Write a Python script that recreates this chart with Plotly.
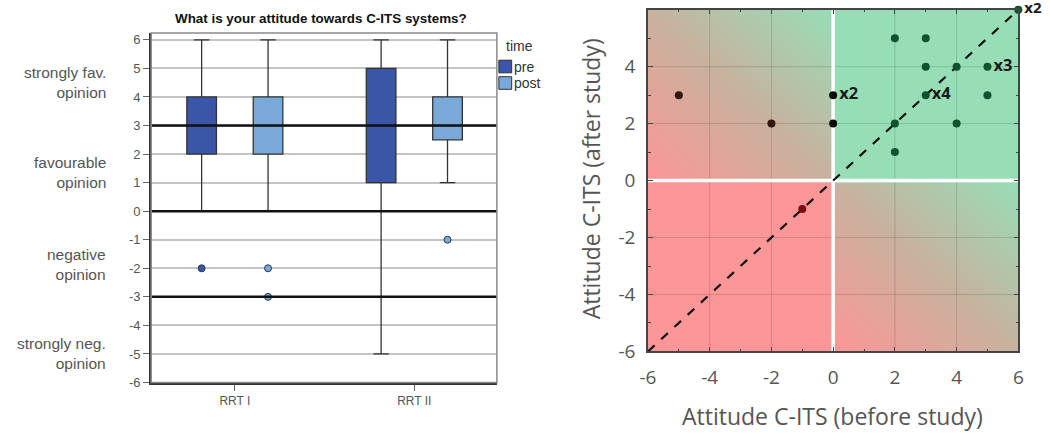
import numpy as np
import plotly.graph_objects as go

W, H = 1050, 446

# ---------------- Left panel: box plots of attitude scores ----------------
groups = ["RRT I", "RRT II"]
group_pos = [0, 1]

pre_q1 = [2, 1]
pre_median = [3, 3]
pre_q3 = [4, 5]
pre_lower = [0, -5]
pre_upper = [6, 6]

post_q1 = [2, 2.5]
post_median = [3, 3]
post_q3 = [4, 4]
post_lower = [0, 1]
post_upper = [6, 6]

pre_outlier_group = [0]
pre_outlier_value = [-2]
post_outlier_group = [0, 0, 1]
post_outlier_value = [-2, -3, -1]

left_ticks = list(range(-6, 7))
reference_levels = [3, 0, -3]
opinion_labels = ["strongly fav.<br>opinion", "favourable<br>opinion",
                  "negative<br>opinion", "strongly neg.<br>opinion"]
opinion_label_y = [4.5, 1.35, -1.85, -5.0]

legend_title = "time"
legend_names = ["pre", "post"]

# ---------------- Right panel: before vs after scatter ----------------
before = [-5, -2, 0, 0, 2, 3, 3, 4, 5, 3, 5, 2, 4, 2, 6, -1]
after = [3, 2, 3, 2, 5, 5, 4, 4, 4, 3, 3, 2, 2, 1, 6, -1]
counts = [1, 1, 2, 1, 1, 1, 1, 1, 3, 4, 1, 1, 1, 1, 2, 1]

axis_ticks = [-6, -4, -2, 0, 2, 4, 6]

PRE_COLOR = "#3b56a9"
POST_COLOR = "#79a9d8"
BOX_LINE = "#333333"
GRAY_TXT = "#555555"
OFFSET = 0.185
BOX_W = 0.165
ARIAL = "Liberation Sans, Arial"
SANS = "Open Sans"


def px_x(p):
    return p / W


def px_y(p):
    return 1 - p / H


fig = go.Figure()

# box traces with precomputed statistics
series = [
    ("pre", pre_q1, pre_median, pre_q3, pre_lower, pre_upper, PRE_COLOR, -OFFSET),
    ("post", post_q1, post_median, post_q3, post_lower, post_upper, POST_COLOR, OFFSET),
]
for name, q1, med, q3, lo, hi, color, off in series:
    fig.add_trace(go.Box(
        x=[p + off for p in group_pos], q1=q1, median=med, q3=q3,
        lowerfence=lo, upperfence=hi, name=name, width=BOX_W,
        fillcolor=color, line=dict(color=BOX_LINE, width=1.3),
        whiskerwidth=0.52, boxpoints=False, xaxis="x", yaxis="y",
        showlegend=False, hoverinfo="skip",
    ))

# outliers
fig.add_trace(go.Scatter(
    x=[group_pos[g] - OFFSET for g in pre_outlier_group], y=pre_outlier_value,
    mode="markers", marker=dict(size=7, color=PRE_COLOR, line=dict(color="#2a3550", width=1)),
    showlegend=False, xaxis="x", yaxis="y", hoverinfo="skip",
))
fig.add_trace(go.Scatter(
    x=[group_pos[g] + OFFSET for g in post_outlier_group], y=post_outlier_value,
    mode="markers", marker=dict(size=7, color=POST_COLOR, line=dict(color="#2a3550", width=1)),
    showlegend=False, xaxis="x", yaxis="y", hoverinfo="skip",
))

# ---- right panel background: quadrant colouring with diagonal gradient ----
gx = np.linspace(-6, 6, 121)
gy = np.linspace(-6, 6, 121)
GX, GY = np.meshgrid(gx, gy)
bg = np.clip((GX + GY) / 6.0, -1, 1)
bg = np.where((GX >= 0) & (GY >= 0), 1.0, bg)
bg = np.where((GX < 0) & (GY < 0), -1.0, bg)
fig.add_trace(go.Heatmap(
    x=gx, y=gy, z=bg, zmin=-1, zmax=1, zsmooth="best", showscale=False,
    colorscale=[[0, "rgb(253,150,150)"], [0.5, "rgb(200,178,158)"], [1, "rgb(151,222,183)"]],
    xaxis="x2", yaxis="y2", hoverinfo="skip",
))

# grid lines (every 2 units) over the background
grid_vals = [v for v in axis_ticks if v not in (-6, 0, 6)]
gxs, gys = [], []
for v in grid_vals:
    gxs += [v, v, None, -6, 6, None]
    gys += [-6, 6, None, v, v, None]
fig.add_trace(go.Scatter(x=gxs, y=gys, mode="lines",
                         line=dict(color="rgba(0,0,0,0.14)", width=1),
                         showlegend=False, xaxis="x2", yaxis="y2", hoverinfo="skip"))
# white zero lines
fig.add_trace(go.Scatter(x=[0, 0, None, -6, 6], y=[-6, 6, None, 0, 0], mode="lines",
                         line=dict(color="white", width=3.5),
                         showlegend=False, xaxis="x2", yaxis="y2", hoverinfo="skip"))
# identity line
fig.add_trace(go.Scatter(x=[-6, 6], y=[-6, 6], mode="lines",
                         line=dict(color="#111111", width=2.2, dash="dash"),
                         showlegend=False, xaxis="x2", yaxis="y2", hoverinfo="skip"))


def point_color(x, y):
    if x > 0 and y > 0:
        return "#0e5230"
    if x == 0:
        return "#0a0a0a"
    if x < 0 and y < 0:
        return "#7a0c0c"
    return "#33170c"


# multiplicity labels; the corner label is kept a bit smaller so it fits the page
label_sizes = [15 if (a == 6 and b == 6) else 16.5 for a, b in zip(before, after)]
fig.add_trace(go.Scatter(
    x=before, y=after, mode="markers+text",
    marker=dict(size=8, color=[point_color(a, b) for a, b in zip(before, after)]),
    text=[f"x{c}" if c > 1 else "" for c in counts],
    textposition="middle right",
    textfont=dict(family=SANS, size=label_sizes, color="#1a1a1a", weight="bold"),
    cliponaxis=False, showlegend=False, xaxis="x2", yaxis="y2", hoverinfo="skip",
))

shapes = []
# left panel reference lines
for lv in reference_levels:
    shapes.append(dict(type="line", xref="x domain", yref="y", x0=0, x1=1, y0=lv, y1=lv,
                       line=dict(color="#111111", width=2.5), layer="above"))
# left panel frame
shapes.append(dict(type="rect", xref="x domain", yref="y domain", x0=0, x1=1, y0=0, y1=1,
                   line=dict(color="#8a8a8a", width=1.5), layer="above"))

annotations = [
    dict(text="<b>What is your attitude towards C-ITS systems?</b>", x=px_x(317), y=px_y(19),
         xref="paper", yref="paper", xanchor="center", yanchor="middle", showarrow=False,
         font=dict(family=ARIAL, size=13.4, color="#111111")),
    dict(text="Attitude C-ITS (before study)", x=px_x(835), y=px_y(429), xref="paper", yref="paper",
         xanchor="center", yanchor="middle", showarrow=False,
         font=dict(family=SANS, size=23, color=GRAY_TXT)),
    dict(text="Attitude C-ITS (after study)", x=px_x(590), y=px_y(184), xref="paper", yref="paper",
         xanchor="center", yanchor="middle", showarrow=False, textangle=-90,
         font=dict(family=SANS, size=23, color=GRAY_TXT)),
]
for txt, yv in zip(opinion_labels, opinion_label_y):
    annotations.append(dict(text=txt, x=px_x(101), y=yv, xref="paper", yref="y",
                            xanchor="right", yanchor="middle", align="right", showarrow=False,
                            font=dict(family=ARIAL, size=15.5, color=GRAY_TXT)))

# legend for the box colours: "time" heading and two swatches
annotations.append(dict(text=legend_title, x=px_x(502), y=px_y(47), xref="paper", yref="paper",
                        xanchor="left", yanchor="middle", showarrow=False,
                        font=dict(family=ARIAL, size=14, color="#333333")))
for i, (name, color) in enumerate(zip(legend_names, [PRE_COLOR, POST_COLOR])):
    top = 62 + i * 17
    shapes.append(dict(type="rect", xref="paper", yref="paper",
                       x0=px_x(497), x1=px_x(510), y0=px_y(top + 13), y1=px_y(top),
                       fillcolor=color, line=dict(color="#333333", width=1)))
    annotations.append(dict(text=name, x=px_x(510.5), y=px_y(top + 7), xref="paper", yref="paper",
                            xanchor="left", yanchor="middle", showarrow=False,
                            font=dict(family=ARIAL, size=14, color="#333333")))

fig.update_layout(
    width=W, height=H, margin=dict(l=0, r=0, t=0, b=0),
    paper_bgcolor="white", plot_bgcolor="white",
    shapes=shapes, annotations=annotations, showlegend=False,
    xaxis=dict(domain=[px_x(145), px_x(495)], range=[-0.466, 1.46], tickvals=group_pos,
               ticktext=groups, ticks="outside", ticklen=6, tickcolor="#666666",
               showgrid=False, zeroline=False, showline=True, linecolor="#333333",
               linewidth=2, tickfont=dict(family=ARIAL, size=12, color=GRAY_TXT),
               anchor="y", fixedrange=True),
    yaxis=dict(domain=[px_y(394), px_y(34)], range=[-6, 6.24], tickvals=left_ticks,
               ticktext=[str(v) for v in left_ticks],
               ticks="outside", ticklen=6, tickcolor="#666666",
               showgrid=True, gridcolor="#c4c4c4", gridwidth=1.5, zeroline=False,
               showline=True, linecolor="#333333", linewidth=2,
               tickfont=dict(family=ARIAL, size=13, color=GRAY_TXT),
               anchor="x", fixedrange=True),
    xaxis2=dict(domain=[px_x(648), px_x(1023)], range=[-6, 6], tickvals=axis_ticks,
                ticktext=[str(v) for v in axis_ticks],
                ticks="inside", ticklen=5, tickcolor="#444444", ticklabelstandoff=8,
                minor=dict(dtick=1, ticks="inside", ticklen=3, tickcolor="#444444"),
                showgrid=False, zeroline=False, showline=True, linecolor="#444444",
                linewidth=1.5, mirror="allticks",
                tickfont=dict(family=SANS, size=19, color=GRAY_TXT),
                anchor="y2", fixedrange=True),
    yaxis2=dict(domain=[px_y(362), px_y(10)], range=[-6, 6], tickvals=axis_ticks,
                ticktext=[str(v) for v in axis_ticks],
                ticks="inside", ticklen=5, tickcolor="#444444", ticklabelstandoff=7,
                minor=dict(dtick=1, ticks="inside", ticklen=3, tickcolor="#444444"),
                showgrid=False, zeroline=False, showline=True, linecolor="#444444",
                linewidth=1.5, mirror="allticks",
                tickfont=dict(family=SANS, size=19, color=GRAY_TXT),
                anchor="x2", fixedrange=True),
)

fig.write_html("out.html")
